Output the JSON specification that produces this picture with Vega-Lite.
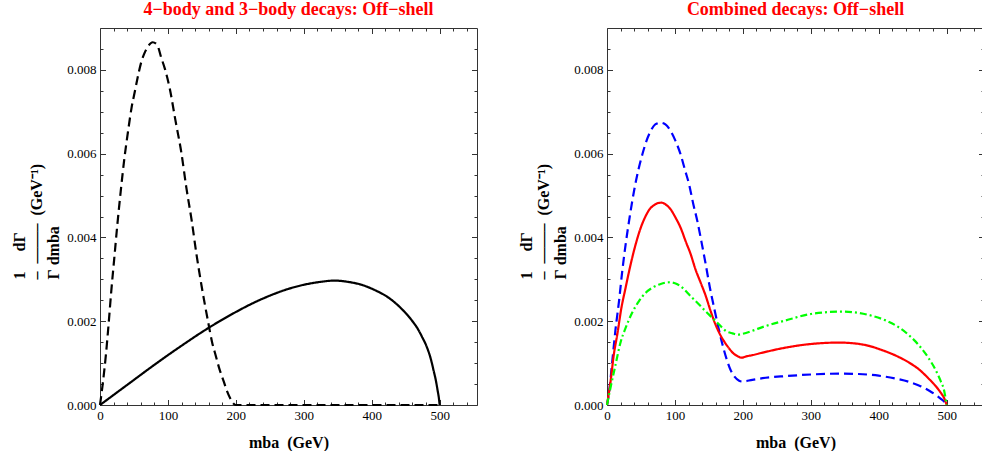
{
  "$schema": "https://vega.github.io/schema/vega-lite/v6.json",
  "background": "white",
  "padding": {"left": 10, "top": 0, "right": 0, "bottom": 0},
  "spacing": 39,
  "resolve": {"scale": {"color": "independent", "strokeDash": "independent"}},
  "config": {
    "view": {"stroke": "#333333", "strokeWidth": 1},
    "axis": {"grid": false, "domain": false, "tickColor": "#333333", "tickWidth": 1},
    "title": {"font": "Liberation Serif", "fontSize": 18, "fontWeight": "bold", "color": "#ff0000", "offset": 9}
  },
  "datasets": {
    "left": [
      {"m": 0, "v": 0, "s": "4-body"},
      {"m": 4, "v": 0.0005, "s": "4-body"},
      {"m": 8.7, "v": 0.0012, "s": "4-body"},
      {"m": 12.5, "v": 0.0019, "s": "4-body"},
      {"m": 16.5, "v": 0.0027, "s": "4-body"},
      {"m": 21, "v": 0.0035, "s": "4-body"},
      {"m": 25.5, "v": 0.0043, "s": "4-body"},
      {"m": 30.5, "v": 0.0051, "s": "4-body"},
      {"m": 36, "v": 0.0059, "s": "4-body"},
      {"m": 41, "v": 0.0065, "s": "4-body"},
      {"m": 46.5, "v": 0.0071, "s": "4-body"},
      {"m": 51.5, "v": 0.0075, "s": "4-body"},
      {"m": 56.5, "v": 0.0079, "s": "4-body"},
      {"m": 61, "v": 0.0082, "s": "4-body"},
      {"m": 65.5, "v": 0.0084, "s": "4-body"},
      {"m": 71, "v": 0.00857, "s": "4-body"},
      {"m": 77.5, "v": 0.00866, "s": "4-body"},
      {"m": 84, "v": 0.0086, "s": "4-body"},
      {"m": 90, "v": 0.0083, "s": "4-body"},
      {"m": 96, "v": 0.008, "s": "4-body"},
      {"m": 102.5, "v": 0.00757, "s": "4-body"},
      {"m": 111, "v": 0.0068, "s": "4-body"},
      {"m": 120, "v": 0.006, "s": "4-body"},
      {"m": 127, "v": 0.0052, "s": "4-body"},
      {"m": 135, "v": 0.0044, "s": "4-body"},
      {"m": 142, "v": 0.0036, "s": "4-body"},
      {"m": 150, "v": 0.0028, "s": "4-body"},
      {"m": 159, "v": 0.002, "s": "4-body"},
      {"m": 165, "v": 0.0015, "s": "4-body"},
      {"m": 170, "v": 0.0012, "s": "4-body"},
      {"m": 176, "v": 0.00085, "s": "4-body"},
      {"m": 182, "v": 0.00057, "s": "4-body"},
      {"m": 187, "v": 0.00033, "s": "4-body"},
      {"m": 192, "v": 0.00015, "s": "4-body"},
      {"m": 196, "v": 0.00004, "s": "4-body"},
      {"m": 200, "v": 0, "s": "4-body"},
      {"m": 300, "v": 0, "s": "4-body"},
      {"m": 400, "v": 0, "s": "4-body"},
      {"m": 500, "v": 0, "s": "4-body"},
      {"m": 0, "v": 0, "s": "3-body"},
      {"m": 25, "v": 0.0003, "s": "3-body"},
      {"m": 50, "v": 0.0006, "s": "3-body"},
      {"m": 75, "v": 0.0009, "s": "3-body"},
      {"m": 100, "v": 0.00119, "s": "3-body"},
      {"m": 125, "v": 0.00147, "s": "3-body"},
      {"m": 150, "v": 0.00174, "s": "3-body"},
      {"m": 175, "v": 0.00199, "s": "3-body"},
      {"m": 200, "v": 0.00222, "s": "3-body"},
      {"m": 225, "v": 0.00243, "s": "3-body"},
      {"m": 250, "v": 0.00261, "s": "3-body"},
      {"m": 275, "v": 0.00276, "s": "3-body"},
      {"m": 300, "v": 0.00287, "s": "3-body"},
      {"m": 325, "v": 0.00294, "s": "3-body"},
      {"m": 345, "v": 0.00297, "s": "3-body"},
      {"m": 365, "v": 0.00294, "s": "3-body"},
      {"m": 385, "v": 0.00287, "s": "3-body"},
      {"m": 405, "v": 0.00274, "s": "3-body"},
      {"m": 425, "v": 0.00256, "s": "3-body"},
      {"m": 445, "v": 0.00228, "s": "3-body"},
      {"m": 460, "v": 0.002, "s": "3-body"},
      {"m": 467, "v": 0.00184, "s": "3-body"},
      {"m": 474, "v": 0.00163, "s": "3-body"},
      {"m": 481.5, "v": 0.00137, "s": "3-body"},
      {"m": 487, "v": 0.0011, "s": "3-body"},
      {"m": 491, "v": 0.00083, "s": "3-body"},
      {"m": 494.5, "v": 0.00058, "s": "3-body"},
      {"m": 497, "v": 0.00035, "s": "3-body"},
      {"m": 499, "v": 0.00015, "s": "3-body"},
      {"m": 500, "v": 0, "s": "3-body"}
    ],
    "right": [
      {"m": 0, "v": 0, "s": "blue"},
      {"m": 3, "v": 0.0003, "s": "blue"},
      {"m": 7.8, "v": 0.00105, "s": "blue"},
      {"m": 12.5, "v": 0.0018, "s": "blue"},
      {"m": 17.7, "v": 0.00248, "s": "blue"},
      {"m": 22.5, "v": 0.0032, "s": "blue"},
      {"m": 27.4, "v": 0.00383, "s": "blue"},
      {"m": 33.5, "v": 0.0045, "s": "blue"},
      {"m": 39.8, "v": 0.00511, "s": "blue"},
      {"m": 46, "v": 0.0056, "s": "blue"},
      {"m": 52, "v": 0.00598, "s": "blue"},
      {"m": 58, "v": 0.0063, "s": "blue"},
      {"m": 64.3, "v": 0.00654, "s": "blue"},
      {"m": 71, "v": 0.0067, "s": "blue"},
      {"m": 79, "v": 0.00674, "s": "blue"},
      {"m": 86, "v": 0.0067, "s": "blue"},
      {"m": 93.7, "v": 0.00654, "s": "blue"},
      {"m": 101, "v": 0.0063, "s": "blue"},
      {"m": 108.4, "v": 0.00598, "s": "blue"},
      {"m": 115, "v": 0.0056, "s": "blue"},
      {"m": 120.8, "v": 0.00527, "s": "blue"},
      {"m": 127, "v": 0.0048, "s": "blue"},
      {"m": 133, "v": 0.00439, "s": "blue"},
      {"m": 139, "v": 0.0039, "s": "blue"},
      {"m": 145.3, "v": 0.00336, "s": "blue"},
      {"m": 151.5, "v": 0.0028, "s": "blue"},
      {"m": 157.7, "v": 0.00232, "s": "blue"},
      {"m": 164, "v": 0.00185, "s": "blue"},
      {"m": 169.9, "v": 0.00145, "s": "blue"},
      {"m": 176, "v": 0.0011, "s": "blue"},
      {"m": 182.1, "v": 0.00083, "s": "blue"},
      {"m": 188, "v": 0.00067, "s": "blue"},
      {"m": 194.5, "v": 0.00058, "s": "blue"},
      {"m": 199, "v": 0.00056, "s": "blue"},
      {"m": 214, "v": 0.0006, "s": "blue"},
      {"m": 229, "v": 0.00064, "s": "blue"},
      {"m": 263, "v": 0.00069, "s": "blue"},
      {"m": 302.5, "v": 0.00073, "s": "blue"},
      {"m": 345, "v": 0.00075, "s": "blue"},
      {"m": 370, "v": 0.00074, "s": "blue"},
      {"m": 400, "v": 0.0007, "s": "blue"},
      {"m": 425, "v": 0.00063, "s": "blue"},
      {"m": 445, "v": 0.00055, "s": "blue"},
      {"m": 460, "v": 0.00046, "s": "blue"},
      {"m": 474.5, "v": 0.00034, "s": "blue"},
      {"m": 485, "v": 0.00023, "s": "blue"},
      {"m": 492, "v": 0.00014, "s": "blue"},
      {"m": 497, "v": 0.00007, "s": "blue"},
      {"m": 500, "v": 0, "s": "blue"},
      {"m": 0, "v": 0, "s": "red"},
      {"m": 5.3, "v": 0.00057, "s": "red"},
      {"m": 10, "v": 0.0012, "s": "red"},
      {"m": 15.2, "v": 0.00169, "s": "red"},
      {"m": 21, "v": 0.0023, "s": "red"},
      {"m": 27.4, "v": 0.0028, "s": "red"},
      {"m": 34, "v": 0.0033, "s": "red"},
      {"m": 42.1, "v": 0.00383, "s": "red"},
      {"m": 49, "v": 0.0042, "s": "red"},
      {"m": 56.9, "v": 0.00451, "s": "red"},
      {"m": 63, "v": 0.00468, "s": "red"},
      {"m": 69.3, "v": 0.00477, "s": "red"},
      {"m": 75, "v": 0.00482, "s": "red"},
      {"m": 80.5, "v": 0.00483, "s": "red"},
      {"m": 87, "v": 0.00478, "s": "red"},
      {"m": 93.7, "v": 0.00467, "s": "red"},
      {"m": 101, "v": 0.00447, "s": "red"},
      {"m": 108.4, "v": 0.00423, "s": "red"},
      {"m": 116, "v": 0.0039, "s": "red"},
      {"m": 123.2, "v": 0.0036, "s": "red"},
      {"m": 130, "v": 0.00325, "s": "red"},
      {"m": 137.9, "v": 0.00292, "s": "red"},
      {"m": 145, "v": 0.00262, "s": "red"},
      {"m": 152.6, "v": 0.00224, "s": "red"},
      {"m": 159, "v": 0.00195, "s": "red"},
      {"m": 165, "v": 0.00173, "s": "red"},
      {"m": 172, "v": 0.00153, "s": "red"},
      {"m": 179.8, "v": 0.00135, "s": "red"},
      {"m": 187, "v": 0.00122, "s": "red"},
      {"m": 193, "v": 0.00116, "s": "red"},
      {"m": 198, "v": 0.00113, "s": "red"},
      {"m": 205, "v": 0.00116, "s": "red"},
      {"m": 214, "v": 0.00119, "s": "red"},
      {"m": 229, "v": 0.00125, "s": "red"},
      {"m": 263, "v": 0.00137, "s": "red"},
      {"m": 302.5, "v": 0.00146, "s": "red"},
      {"m": 341.7, "v": 0.00149, "s": "red"},
      {"m": 365, "v": 0.00147, "s": "red"},
      {"m": 386, "v": 0.00141, "s": "red"},
      {"m": 405, "v": 0.00131, "s": "red"},
      {"m": 425, "v": 0.00118, "s": "red"},
      {"m": 445, "v": 0.00101, "s": "red"},
      {"m": 460, "v": 0.00084, "s": "red"},
      {"m": 473, "v": 0.00064, "s": "red"},
      {"m": 484, "v": 0.00045, "s": "red"},
      {"m": 491, "v": 0.0003, "s": "red"},
      {"m": 496.5, "v": 0.00016, "s": "red"},
      {"m": 500, "v": 0, "s": "red"},
      {"m": 0, "v": 0, "s": "green"},
      {"m": 5, "v": 0.0004, "s": "green"},
      {"m": 12.7, "v": 0.00097, "s": "green"},
      {"m": 20, "v": 0.0015, "s": "green"},
      {"m": 27.4, "v": 0.00184, "s": "green"},
      {"m": 37, "v": 0.0022, "s": "green"},
      {"m": 47.1, "v": 0.00248, "s": "green"},
      {"m": 57, "v": 0.00268, "s": "green"},
      {"m": 66.7, "v": 0.0028, "s": "green"},
      {"m": 79, "v": 0.00289, "s": "green"},
      {"m": 91.4, "v": 0.00293, "s": "green"},
      {"m": 101, "v": 0.0029, "s": "green"},
      {"m": 110.9, "v": 0.0028, "s": "green"},
      {"m": 123, "v": 0.0026, "s": "green"},
      {"m": 135.5, "v": 0.0024, "s": "green"},
      {"m": 145, "v": 0.00224, "s": "green"},
      {"m": 155.2, "v": 0.00208, "s": "green"},
      {"m": 165, "v": 0.00192, "s": "green"},
      {"m": 174.7, "v": 0.00177, "s": "green"},
      {"m": 185, "v": 0.00171, "s": "green"},
      {"m": 193, "v": 0.00168, "s": "green"},
      {"m": 200, "v": 0.0017, "s": "green"},
      {"m": 214, "v": 0.00177, "s": "green"},
      {"m": 228.8, "v": 0.00186, "s": "green"},
      {"m": 263, "v": 0.00202, "s": "green"},
      {"m": 302.5, "v": 0.00218, "s": "green"},
      {"m": 346.7, "v": 0.00223, "s": "green"},
      {"m": 370, "v": 0.0022, "s": "green"},
      {"m": 390, "v": 0.00213, "s": "green"},
      {"m": 410, "v": 0.00202, "s": "green"},
      {"m": 425, "v": 0.0019, "s": "green"},
      {"m": 445, "v": 0.00166, "s": "green"},
      {"m": 460, "v": 0.00141, "s": "green"},
      {"m": 473, "v": 0.00113, "s": "green"},
      {"m": 484, "v": 0.00083, "s": "green"},
      {"m": 491, "v": 0.00058, "s": "green"},
      {"m": 496.5, "v": 0.00033, "s": "green"},
      {"m": 500, "v": 0, "s": "green"}
    ]
  },
  "hconcat": [
    {
      "width": 377,
      "height": 377,
      "title": {"text": "4−body and 3−body decays: Off−shell"},
      "data": {"name": "left"},
      "layer": [
        {
          "mark": {"type": "line", "strokeWidth": 2.2, "interpolate": "monotone"},
          "encoding": {
            "x": {"field": "m", "type": "quantitative", "scale": {"domain": [0, 555], "nice": false, "zero": false},
              "axis": {"orient": "bottom", "values": [0, 100, 200, 300, 400, 500], "tickSize": -5.5, "labelPadding": 9.5, "labelFlush": false, "labelFont": "Liberation Serif", "labelFontSize": 13, "labelColor": "#000000",
                "title": "mba\u00a0\u00a0(GeV)", "titleFont": "Liberation Serif", "titleFontSize": 16, "titleFontWeight": "bold", "titleColor": "#000000", "titlePadding": 12}},
            "y": {"field": "v", "type": "quantitative", "scale": {"domain": [0, 0.009], "nice": false},
              "axis": {"orient": "left", "values": [0, 0.002, 0.004, 0.006, 0.008], "format": ".3f", "tickSize": -5.5, "labelPadding": 9.5, "labelFlush": false, "labelFont": "Liberation Serif", "labelFontSize": 13, "labelColor": "#000000",
                "titleFont": "Liberation Serif", "titleFontSize": 16, "titleFontWeight": "bold", "titleColor": "#000000", "titleLineHeight": 17,
                "titleAngle": 270, "titleAlign": "left", "titleBaseline": "top", "titleX": -89, "titleY": 251,
                "title": ["1\u00a0\u00a0\u00a0\u00a0\u00a0dΓ", "–\u00a0\u00a0——–\u00a0\u00a0(GeV⁻¹)", "Γ\u00a0dmba"]}},
            "color": {"field": "s", "type": "nominal", "scale": {"domain": ["4-body", "3-body"], "range": ["#000000", "#000000"]}, "legend": null},
            "strokeDash": {"field": "s", "type": "nominal", "scale": {"domain": ["4-body", "3-body"], "range": [[9, 5], [1, 0]]}, "legend": null}
          }
        },
        {
          "mark": {"type": "point", "opacity": 0},
          "encoding": {
            "x": {"field": "m", "type": "quantitative", "axis": {"orient": "bottom", "values": [20, 40, 60, 80, 120, 140, 160, 180, 220, 240, 260, 280, 320, 340, 360, 380, 420, 440, 460, 480, 520, 540], "tickSize": -3, "labels": false, "title": null}},
            "y": {"field": "v", "type": "quantitative", "axis": {"orient": "left", "values": [0.0005, 0.001, 0.0015, 0.0025, 0.003, 0.0035, 0.0045, 0.005, 0.0055, 0.0065, 0.007, 0.0075, 0.0085], "tickSize": -3, "labels": false, "title": null}}
          }
        },
        {
          "mark": {"type": "point", "opacity": 0},
          "encoding": {
            "x": {"field": "m", "type": "quantitative", "axis": {"orient": "top", "values": [0, 100, 200, 300, 400, 500], "tickSize": -5.5, "labels": false, "title": null}},
            "y": {"field": "v", "type": "quantitative", "axis": {"orient": "right", "values": [0, 0.002, 0.004, 0.006, 0.008], "tickSize": -5.5, "labels": false, "title": null}}
          }
        },
        {
          "mark": {"type": "point", "opacity": 0},
          "encoding": {
            "x": {"field": "m", "type": "quantitative", "axis": {"orient": "top", "values": [20, 40, 60, 80, 120, 140, 160, 180, 220, 240, 260, 280, 320, 340, 360, 380, 420, 440, 460, 480, 520, 540], "tickSize": -3, "labels": false, "title": null}},
            "y": {"field": "v", "type": "quantitative", "axis": {"orient": "right", "values": [0.0005, 0.001, 0.0015, 0.0025, 0.003, 0.0035, 0.0045, 0.005, 0.0055, 0.0065, 0.007, 0.0075, 0.0085], "tickSize": -3, "labels": false, "title": null}}
          }
        }
      ],
      "resolve": {"axis": {"x": "independent", "y": "independent"}}
    },
    {
      "width": 377,
      "height": 377,
      "title": {"text": "Combined decays: Off−shell"},
      "data": {"name": "right"},
      "layer": [
        {
          "mark": {"type": "line", "strokeWidth": 2.2, "interpolate": "monotone"},
          "encoding": {
            "x": {"field": "m", "type": "quantitative", "scale": {"domain": [0, 555], "nice": false, "zero": false},
              "axis": {"orient": "bottom", "values": [0, 100, 200, 300, 400, 500], "tickSize": -5.5, "labelPadding": 9.5, "labelFlush": false, "labelFont": "Liberation Serif", "labelFontSize": 13, "labelColor": "#000000",
                "title": "mba\u00a0\u00a0(GeV)", "titleFont": "Liberation Serif", "titleFontSize": 16, "titleFontWeight": "bold", "titleColor": "#000000", "titlePadding": 12}},
            "y": {"field": "v", "type": "quantitative", "scale": {"domain": [0, 0.009], "nice": false},
              "axis": {"orient": "left", "values": [0, 0.002, 0.004, 0.006, 0.008], "format": ".3f", "tickSize": -5.5, "labelPadding": 9.5, "labelFlush": false, "labelFont": "Liberation Serif", "labelFontSize": 13, "labelColor": "#000000",
                "titleFont": "Liberation Serif", "titleFontSize": 16, "titleFontWeight": "bold", "titleColor": "#000000", "titleLineHeight": 17,
                "titleAngle": 270, "titleAlign": "left", "titleBaseline": "top", "titleX": -89, "titleY": 251,
                "title": ["1\u00a0\u00a0\u00a0\u00a0\u00a0dΓ", "–\u00a0\u00a0——–\u00a0\u00a0(GeV⁻¹)", "Γ\u00a0dmba"]}},
            "color": {"field": "s", "type": "nominal", "scale": {"domain": ["blue", "red", "green"], "range": ["#0000ff", "#ff0000", "#00ff00"]}, "legend": null},
            "strokeDash": {"field": "s", "type": "nominal", "scale": {"domain": ["blue", "red", "green"], "range": [[9, 5], [1, 0], [7, 3, 2, 3]]}, "legend": null}
          }
        },
        {
          "mark": {"type": "point", "opacity": 0},
          "encoding": {
            "x": {"field": "m", "type": "quantitative", "axis": {"orient": "bottom", "values": [20, 40, 60, 80, 120, 140, 160, 180, 220, 240, 260, 280, 320, 340, 360, 380, 420, 440, 460, 480, 520, 540], "tickSize": -3, "labels": false, "title": null}},
            "y": {"field": "v", "type": "quantitative", "axis": {"orient": "left", "values": [0.0005, 0.001, 0.0015, 0.0025, 0.003, 0.0035, 0.0045, 0.005, 0.0055, 0.0065, 0.007, 0.0075, 0.0085], "tickSize": -3, "labels": false, "title": null}}
          }
        },
        {
          "mark": {"type": "point", "opacity": 0},
          "encoding": {
            "x": {"field": "m", "type": "quantitative", "axis": {"orient": "top", "values": [0, 100, 200, 300, 400, 500], "tickSize": -5.5, "labels": false, "title": null}},
            "y": {"field": "v", "type": "quantitative", "axis": {"orient": "right", "values": [0, 0.002, 0.004, 0.006, 0.008], "tickSize": -5.5, "labels": false, "title": null}}
          }
        },
        {
          "mark": {"type": "point", "opacity": 0},
          "encoding": {
            "x": {"field": "m", "type": "quantitative", "axis": {"orient": "top", "values": [20, 40, 60, 80, 120, 140, 160, 180, 220, 240, 260, 280, 320, 340, 360, 380, 420, 440, 460, 480, 520, 540], "tickSize": -3, "labels": false, "title": null}},
            "y": {"field": "v", "type": "quantitative", "axis": {"orient": "right", "values": [0.0005, 0.001, 0.0015, 0.0025, 0.003, 0.0035, 0.0045, 0.005, 0.0055, 0.0065, 0.007, 0.0075, 0.0085], "tickSize": -3, "labels": false, "title": null}}
          }
        }
      ],
      "resolve": {"axis": {"x": "independent", "y": "independent"}}
    }
  ]
}
